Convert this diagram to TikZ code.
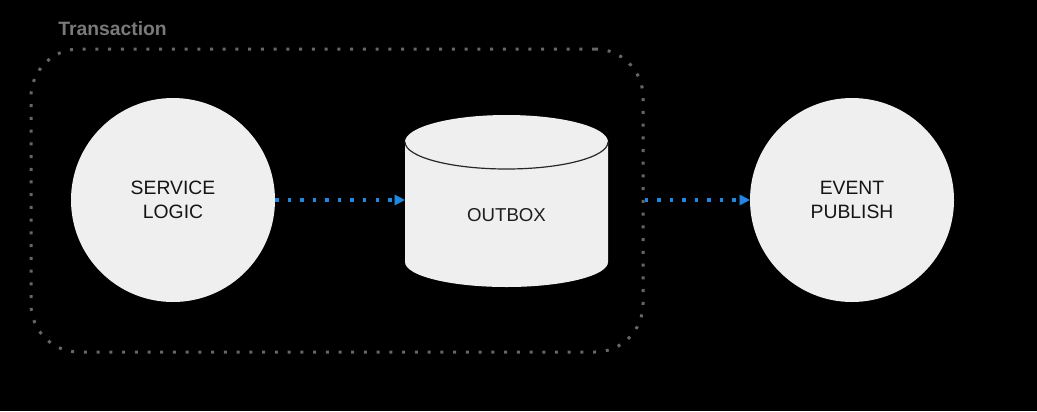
\documentclass[tikz,border=0pt]{standalone}
\usepackage{fontspec}
\setmainfont{Liberation Sans}
\usetikzlibrary{arrows.meta}
\definecolor{bubble}{HTML}{EFEFEF}
\definecolor{flowblue}{HTML}{1E88E5}
\definecolor{fence}{HTML}{666666}
\definecolor{caption}{HTML}{7A7A7A}

\begin{document}
\begin{tikzpicture}[x=0.75pt,y=0.75pt,yscale=-1,xscale=1,
  stage/.style={circle, fill=bubble, minimum size=153pt, inner sep=0pt, align=center, text={rgb, 255:red, 20; green, 20; blue, 20 }, font=\fontsize{14.5}{18}\selectfont},
  flow/.style={draw=flowblue, line width=2.6pt, dash pattern=on 2.6pt off 6.8pt, -{Triangle[length=7.5pt,width=8pt,line width=0.1pt]}}]
%set diagram to 1037 x 411, black ground
\fill[black] (0,0) rectangle (1037,411);
\useasboundingbox (0,0) rectangle (1037,411);

%Shape: Rounded Rect [id:txbox] 
\node (txbox) [draw=fence, line width=2.25pt, dash pattern=on 2.25pt off 7.3pt, rounded corners=36pt, minimum width=459pt, minimum height=227.25pt, inner sep=0pt] at (337,200.5) {};
% Text Node
\node (txlabel) [anchor=west, inner sep=0.75pt, text=caption, font=\fontsize{14.5}{17}\selectfont\bfseries] at (57,29) {Transaction};

%Shape: Circle [id:logic] 
\node (logic) [stage] at (173,200) {SERVICE\\LOGIC};
%Shape: Circle [id:publish] 
\node (publish) [stage] at (852,200) {EVENT\\PUBLISH};

%Shape: Can [id:outbox] 
\fill[bubble] (405,142) .. controls (405,127.09) and (450.44,115) .. (506.5,115) .. controls (562.56,115) and (608,127.09) .. (608,142) -- (608,262) .. controls (608,275.81) and (562.56,287) .. (506.5,287) .. controls (450.44,287) and (405,275.81) .. (405,262) -- cycle ;
\draw[color={rgb, 255:red, 40; green, 40; blue, 40 }, line width=0.9pt] (405,142) .. controls (405,156.91) and (450.44,169) .. (506.5,169) .. controls (562.56,169) and (608,156.91) .. (608,142) ;
% Text Node
\node (outbox) [inner sep=0pt, minimum width=152.25pt, text={rgb, 255:red, 30; green, 30; blue, 30 }, font=\fontsize{14}{17}\selectfont] at (506.5,215) {OUTBOX};

%Dotted Arrows
\draw[flow] (logic) -- (outbox.west |- logic) ;
\draw[flow] (txbox.east |- publish) -- (publish) ;

\end{tikzpicture}
\end{document}
